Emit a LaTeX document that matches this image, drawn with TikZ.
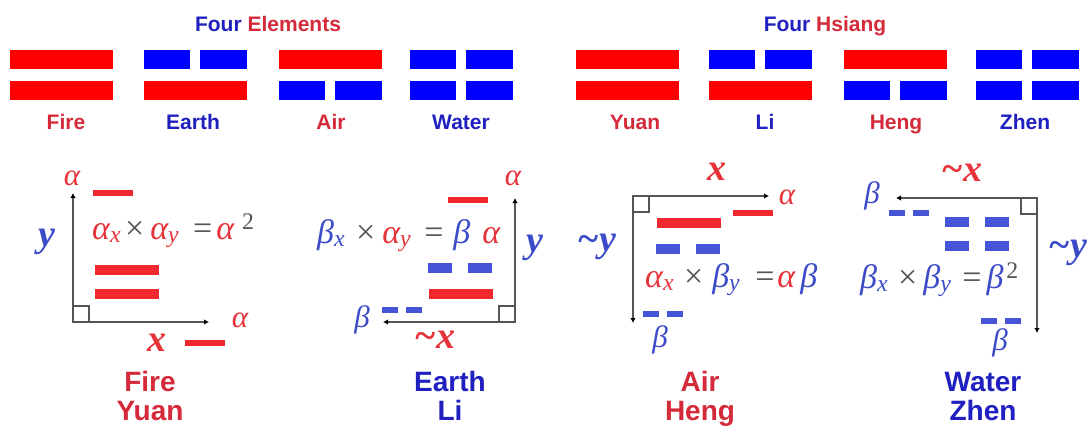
\documentclass[tikz,border=0pt]{standalone}
\usepackage{fontspec}
\setmainfont{Liberation Serif}
\newfontfamily\labfont{Liberation Sans}
\usetikzlibrary{arrows.meta}

\definecolor{hexred}{RGB}{255,0,0}
\definecolor{hexblue}{RGB}{0,0,255}
\definecolor{barred}{RGB}{240,40,48}
\definecolor{barblue}{RGB}{70,85,215}
\definecolor{txtred}{RGB}{212,42,58}
\definecolor{txtblue}{RGB}{32,32,192}
\definecolor{mathred}{RGB}{232,50,58}
\definecolor{mathblue}{RGB}{60,75,200}
\definecolor{axisgray}{RGB}{85,85,85}

% greek letters and operators of the products
\newcommand{\gal}{\textcolor{mathred}{α}}
\newcommand{\gbe}{\textcolor{mathblue}{β}}
\newcommand{\sbx}[2]{\textcolor{#1}{\textsubscript{#2}}}
\newcommand{\crs}{\textcolor{axisgray}{\upshape ×}}
\newcommand{\eqsign}{\textcolor{axisgray}{\upshape =}}
\newcommand{\sqr}{\textsuperscript{\upshape\textcolor{axisgray}{2}}}
\newcommand{\gp}[1]{\hspace{#1pt}}

\tikzset{
  yang/.pic={\fill[hexred] (0,0) rectangle (103,19);},
  yin/.pic={\fill[hexblue] (0,0) rectangle (46,19); \fill[hexblue] (56,0) rectangle (103,19);},
  bigyang/.pic={\fill[barred] (0,0) rectangle (64,10);},
  bigyin/.pic={\fill[barblue] (0,0) rectangle (24,10); \fill[barblue] (40,0) rectangle (64,10);},
  smallyang/.pic={\fill[barred] (0,0) rectangle (40,6);},
  smallyin/.pic={\fill[barblue] (0,0) rectangle (16,6); \fill[barblue] (24,0) rectangle (40,6);}
}

\begin{document}
\begin{tikzpicture}[x=1pt,y=-1pt,
  ttl/.style={font=\labfont\bfseries\fontsize{21}{21}\selectfont,anchor=base,inner sep=0pt},
  toplab/.style={font=\labfont\bfseries\fontsize{21}{21}\selectfont,anchor=base,inner sep=0pt},
  lab/.style={font=\labfont\bfseries\fontsize{28}{28}\selectfont,anchor=base,inner sep=0pt},
  eqn/.style={font=\fontsize{34}{34}\selectfont\itshape,anchor=base west,inner sep=0pt},
  axlab/.style={font=\fontsize{38}{38}\selectfont\bfseries\itshape,inner sep=0pt},
  endlab/.style={font=\fontsize{31}{31}\selectfont\itshape,inner sep=0pt},
  axis/.style={draw=axisgray,line width=1.6pt,-{Latex[length=5pt,width=5.5pt,color=black]}},
  corner/.style={draw=axisgray,line width=1.1pt}]
  \fill[white] (0,0) rectangle (1088,431);
  \useasboundingbox (0,0) rectangle (1088,431);

  % top rows of bigrams
  \node[ttl] (elem) at (268,31) {\textcolor{txtblue}{Four} \textcolor{txtred}{Elements}};
  \node[ttl] (hsia) at (825,31) {\textcolor{txtblue}{Four} \textcolor{txtred}{Hsiang}};
  \foreach \xa/\tp/\bt in {10/yang/yang,144/yin/yang,279/yang/yin,410/yin/yin,
                            576/yang/yang,709/yin/yang,844/yang/yin,976/yin/yin}{
    \pic at (\xa,50) {\tp};
    \pic at (\xa,81) {\bt};
  }
  \foreach \xc/\nm/\cl in {66/Fire/txtred,193/Earth/txtblue,331/Air/txtred,461/Water/txtblue,
                            635/Yuan/txtred,765/Li/txtblue,896/Heng/txtred,1025/Zhen/txtblue}{
    \node[toplab,text=\cl] (t\nm) at (\xc,129) {\nm};
  }

  % Fire / Yuan
  \coordinate (o1) at (73,322);
  \coordinate (ya) at (73,193);
  \coordinate (xa) at (209,322);
  \draw[axis] (o1) -- (ya);
  \draw[axis] (o1) -- (xa);
  \draw[corner] (o1) rectangle ++(16,-16);
  \node[endlab,mathred] (a1t) at (72,178) {α};
  \node[endlab,mathred] (a1r) at (240,320) {α};
  \node[axlab,mathblue] (y1) at (47,242) {y};
  \node[axlab,mathred] (x1) at (157,343) {x};
  \pic at (93,190) {smallyang};
  \pic at (185,340) {smallyang};
  \pic at (95,265) {bigyang};
  \pic at (95,289) {bigyang};
  \node[eqn] (eq1) at (92,239) {\gal\sbx{mathred}{x}\gp{4}\crs\gp{6}\gal\sbx{mathred}{y}\gp{14}\eqsign\gp{4}\gal\gp{8}\sqr};

  % Earth / Li
  \coordinate (o2) at (515,322);
  \coordinate (yb) at (515,198);
  \coordinate (xb) at (383,322);
  \draw[axis] (o2) -- (yb);
  \draw[axis] (o2) -- (xb);
  \draw[corner] (o2) rectangle ++(-16,-16);
  \node[endlab,mathred] (a2t) at (513,178) {α};
  \node[endlab,mathblue] (b2l) at (362,320) {β};
  \node[axlab,mathblue] (y2) at (535,248) {y};
  \node[axlab,mathred] (x2) at (435,340) {\textasciitilde x};
  \pic at (448,197) {smallyang};
  \pic at (382,307) {smallyin};
  \pic at (428,263) {bigyin};
  \pic at (429,289) {bigyang};
  \node[eqn] (eq2) at (317,243) {\gbe\sbx{mathblue}{x}\gp{11}\crs\gp{7}\gal\sbx{mathred}{y}\gp{13}\eqsign\gp{10}\gbe\gp{12}\gal};

  % Air / Heng
  \coordinate (o3) at (633,196);
  \coordinate (xc) at (769,196);
  \coordinate (yc) at (633,323);
  \draw[axis] (o3) -- (xc);
  \draw[axis] (o3) -- (yc);
  \draw[corner] (o3) rectangle ++(16,16);
  \node[endlab,mathred] (a3r) at (787,197) {α};
  \node[endlab,mathblue] (b3b) at (660,340) {β};
  \node[axlab,mathred] (x3) at (717,172) {x};
  \node[axlab,mathblue] (y3) at (597,247) {\textasciitilde y};
  \pic at (733,210) {smallyang};
  \pic at (657,218) {bigyang};
  \pic at (656,244) {bigyin};
  \pic at (643,311) {smallyin};
  \node[eqn] (eq3) at (645,287) {\gal\sbx{mathred}{x}\gp{10}\crs\gp{9}\gbe\sbx{mathblue}{y}\gp{15}\eqsign\gp{3}\gal\gp{5}\gbe};

  % Water / Zhen
  \coordinate (o4) at (1037,198);
  \coordinate (xd) at (896,198);
  \coordinate (yd) at (1037,333);
  \draw[axis] (o4) -- (xd);
  \draw[axis] (o4) -- (yd);
  \draw[corner] (o4) rectangle ++(-16,16);
  \node[endlab,mathblue] (b4l) at (872,196) {β};
  \node[endlab,mathblue] (b4b) at (1000,343) {β};
  \node[axlab,mathred] (x4) at (962,173) {\textasciitilde x};
  \node[axlab,mathblue] (y4) at (1068,253) {\textasciitilde y};
  \pic at (889,210) {smallyin};
  \pic at (945,217) {bigyin};
  \pic at (945,241) {bigyin};
  \pic at (981,318) {smallyin};
  \node[eqn] (eq4) at (860,288) {\gbe\sbx{mathblue}{x}\gp{10}\crs\gp{6}\gbe\sbx{mathblue}{y}\gp{11}\eqsign\gp{5}\gbe\gp{3}\sqr};

  % names below the panels
  \foreach \xc/\na/\nb/\cl in {150/Fire/Yuan/txtred,450/Earth/Li/txtblue,
                                700/Air/Heng/txtred,983/Water/Zhen/txtblue}{
    \node[lab,text=\cl] (b\na) at (\xc,391) {\na};
    \node[lab,text=\cl] (b\nb) at (\xc,420) {\nb};
  }
\end{tikzpicture}
\end{document}
